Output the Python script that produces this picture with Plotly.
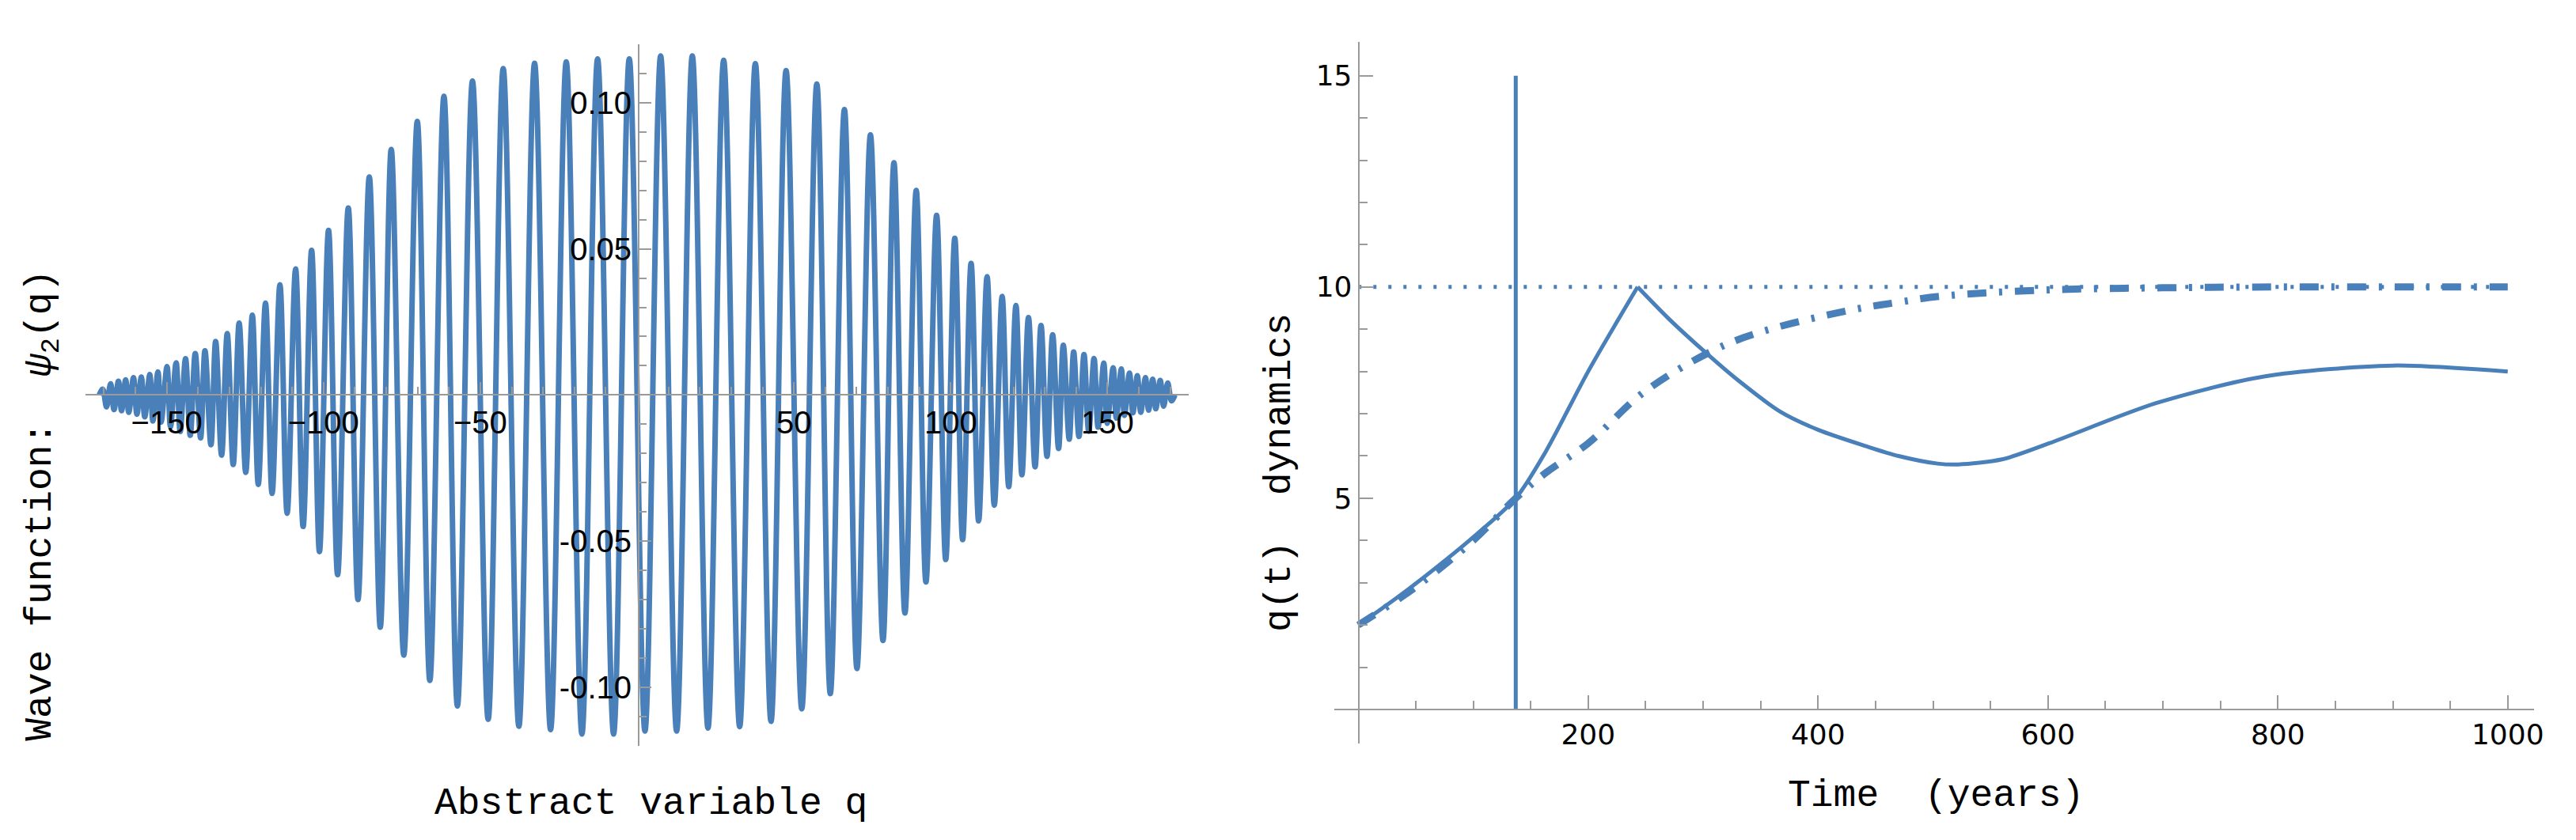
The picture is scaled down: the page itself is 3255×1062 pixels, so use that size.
import plotly.graph_objects as go

W, H = 3255, 1062
BLUE = "#4A80B9"
GRAY = "#9a9a9a"

# ---- left panel: extrema of the wave function (right half; function is odd)
q_right = [2.5,7.5,12.6,17.6,22.6,27.6,32.7,37.7,42.7,47.5,52.5,57.3,61.6,66.1,70.1,74.4,78.4,81.9,85.4,89.0,
           92.1,95.5,98.4,101.3,103.8,106.5,108.9,111.6,113.9,116.4,118.5,120.8,122.7,124.8,126.9,128.8,130.7,
           132.5,134.4,135.9,137.8,139.2,140.9,142.5,144.0,145.7,147.0,148.8,149.9,151.8,152.8,154.4,155.4,157.0,
           158.1,159.5,160.6,162.1,163.1,164.4,165.4,166.8,167.9,169.2,170.4,171.5]
psi_right = [-0.115,0.116,-0.115,0.116,-0.114,0.1145,-0.1135,0.1134,-0.1117,0.111,-0.1074,0.1064,-0.1022,0.0977,
             -0.0936,0.089,-0.084,0.0795,-0.0746,0.070,-0.064,0.0615,-0.0563,0.0536,-0.0495,0.045,-0.0431,0.0405,
             -0.0377,0.0337,-0.0314,0.0306,-0.0273,0.0265,-0.0246,0.0238,-0.0210,0.0206,-0.0183,0.0170,-0.0151,
             0.0147,-0.0142,0.0138,-0.0124,0.0125,-0.0110,0.0109,-0.0097,0.0093,-0.0079,0.0089,-0.0070,0.0075,
             -0.0061,0.0066,-0.0059,0.0059,-0.0052,0.0054,-0.0047,0.0050,-0.0038,0.0041,-0.0020,0.0]
left_xticks = [-150,-100,-50,50,100,150]
left_yticks = [-0.10,-0.05,0.05,0.10]

# ---- right panel
t_rise = [0,18,48,100,137,163,200,243]
q_rise = [2.0,2.34,2.94,4.08,5.0,6.1,8.0,10.0]
t_fall = [243,270,300,330,367,400,442,470,504,522,560,601,694,788,900,1000]
q_fall = [10.0,9.25,8.5,7.8,7.05,6.62,6.23,6.0,5.82,5.8,5.92,6.3,7.25,7.88,8.14,8.0]
t_dd = [0,50,100,137,163,200,248,309,352,430,468,507,600,700,800,1000]
q_dd = [2.0,2.9,4.0,5.0,5.6,6.3,7.5,8.5,8.95,9.46,9.63,9.78,9.93,9.98,10.0,10.0]
t_cap = [0,1000]; q_cap = [10,10]
t_mark = [137,137]; q_mark = [0,15]
right_xticks = [200,400,600,800,1000]
right_yticks = [5,10,15]

q_all = [-q for q in reversed(q_right)] + q_right
psi_all = [-v for v in reversed(psi_right)] + psi_right

fig = go.Figure()
fig.add_trace(go.Scatter(x=q_all, y=psi_all, mode="lines", line=dict(color=BLUE, width=7, shape="spline", smoothing=1.0),
                         xaxis="x", yaxis="y", showlegend=False))
fig.add_trace(go.Scatter(x=t_cap, y=q_cap, mode="lines", line=dict(color=BLUE, width=5, dash="4px,15px"),
                         xaxis="x2", yaxis="y2", showlegend=False))
fig.add_trace(go.Scatter(x=t_dd, y=q_dd, mode="lines", line=dict(color=BLUE, width=9, dash="24px,16px,4px,16px", shape="spline"),
                         xaxis="x2", yaxis="y2", showlegend=False))
for tx, qy in ((t_rise, q_rise), (t_fall, q_fall)):
    fig.add_trace(go.Scatter(x=tx, y=qy, mode="lines", line=dict(color=BLUE, width=5, shape="spline", smoothing=0.8),
                             xaxis="x2", yaxis="y2", showlegend=False))
fig.add_trace(go.Scatter(x=t_mark, y=q_mark, mode="lines", line=dict(color=BLUE, width=5),
                         xaxis="x2", yaxis="y2", showlegend=False))

def px(x): return x / W
def py(y): return 1 - y / H

lfont = dict(family="Liberation Sans", size=40, color="black")
rfont = dict(family="DejaVu Sans", size=36, color="black")
axcommon = dict(showgrid=False, zeroline=False, showline=True, linecolor=GRAY, linewidth=2,
                ticks="inside", tickcolor=GRAY, tickwidth=2)

fig.update_layout(
    width=W, height=H, margin=dict(l=0, r=0, t=0, b=0),
    plot_bgcolor="white", paper_bgcolor="white",
    xaxis=dict(domain=[px(100), px(1500)], range=[-176, 176], anchor="free", position=py(491),
               tickvals=left_xticks, ticklen=15, tickfont=lfont,
               minor=dict(tickvals=[v for v in range(-170, 171, 10) if v % 50], ticklen=9, tickcolor=GRAY, ticks="inside"),
               **axcommon),
    yaxis=dict(domain=[py(934.7), py(48)], range=[-0.12, 0.12], anchor="free", position=px(802),
               tickvals=left_yticks, ticktext=["-0.10", "-0.05", "0.05", "0.10"], ticklen=15, tickfont=lfont,
               minor=dict(tickvals=[i / 100 for i in range(-12, 13) if i % 5], ticklen=9, tickcolor=GRAY, ticks="inside"),
               **axcommon),
    xaxis2=dict(domain=[px(1684), px(3206)], range=[-21, 1023], anchor="free", position=py(889),
                tickvals=right_xticks, ticklen=17, tickfont=rfont,
                minor=dict(tickvals=[v for v in range(50, 1001, 50) if v % 200], ticklen=10, tickcolor=GRAY, ticks="inside"),
                **axcommon),
    yaxis2=dict(domain=[py(931.8), py(44.9)], range=[-0.8, 15.8], anchor="free", position=px(1715),
                tickvals=right_yticks, ticklen=17, tickfont=rfont,
                minor=dict(tickvals=[v for v in range(1, 16) if v % 5], ticklen=10, tickcolor=GRAY, ticks="inside"),
                **axcommon),
)

mono = dict(family="Liberation Mono", size=48, color="black")
ann = dict(xref="paper", yref="paper", showarrow=False, xanchor="center", yanchor="middle", font=mono)
fig.add_annotation(x=px(46), y=py(631), textangle=-90, text="Wave function:  <i>ψ</i><sub>2</sub>(q)", **ann)
fig.add_annotation(x=px(818), y=py(1008), text="Abstract variable q", **ann)
fig.add_annotation(x=px(1615), y=py(590), textangle=-90, text="q(t)  dynamics", **ann)
fig.add_annotation(x=px(2447), y=py(998), text="Time  (years)", **ann)

fig.write_html("out.html")
